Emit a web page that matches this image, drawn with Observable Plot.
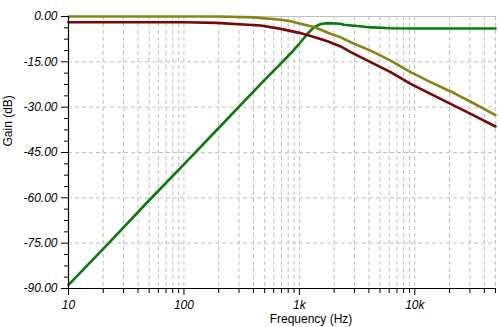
<!DOCTYPE html>
<html>
<head>
<meta charset="utf-8">
<script src="https://cdn.jsdelivr.net/npm/d3@7"></script>
<script src="https://cdn.jsdelivr.net/npm/@observablehq/plot@0.6"></script>
<style>
  html, body { margin: 0; padding: 0; background: #fff; }
  svg { display: block; }
</style>
</head>
<body>
<div id="chart"></div>
<script>
// Frequency axis ticks (Hz)
const majorFreqs = [10, 100, 1000, 10000];
const majorLabels = ["10", "100", "1k", "10k"];
const minorFreqs = [20,30,40,50,60,70,80,90,200,300,400,500,600,700,800,900,2000,3000,4000,5000,6000,7000,8000,9000,20000,30000,40000,50000];
// Gain axis ticks (dB)
const majorGains = [0, -15, -30, -45, -60, -75, -90];
const minorGains = [-3.75,-7.5,-11.25,-18.75,-22.5,-26.25,-33.75,-37.5,-41.25,-48.75,-52.5,-56.25,-63.75,-67.5,-71.25,-78.75,-82.5,-86.25];

// Series: olive (low-pass)
const oliveFreq = [10, 100, 200, 400, 690, 840, 1020, 1340, 1860, 2280, 2780, 4140, 6170, 9200, 13700, 20400, 30500, 50000];
const oliveGain = [0, 0, 0, -0.3, -1.1, -1.6, -2.4, -3.5, -5.7, -6.9, -8.5, -11.3, -14.6, -18.4, -21.7, -24.8, -28.2, -32.6];
// Series: dark red
const redFreq = [10, 100, 190, 460, 690, 1020, 1340, 1750, 2280, 2780, 4140, 6170, 9200, 13700, 20400, 30500, 50000];
const redGain = [-1.9, -1.9, -2.1, -3.0, -4.1, -5.5, -6.8, -8.2, -9.9, -11.8, -15.1, -18.4, -22.3, -25.6, -28.9, -32.2, -36.4];
// Series: green (high-pass)
const greenFreq = [10, 20, 50, 100, 200, 500, 690, 850, 1020, 1170, 1340, 1530, 1770, 2280, 2430, 3870, 6170, 10000, 50000];
const greenGain = [-88.8, -76.9, -60.8, -48.9, -36.9, -21.0, -15.6, -12.0, -8.6, -5.8, -3.5, -2.5, -2.2, -2.4, -2.75, -3.5, -3.9, -3.95, -3.95];

const toRows = (fs, gs) => fs.map((f, i) => ({f, g: gs[i]}));
const olive = toRows(oliveFreq, oliveGain);
const red = toRows(redFreq, redGain);
const green = toRows(greenFreq, greenGain);

const gridGray = "#c0c0c0";
const tickFont = {fontStyle: "italic", fontSize: 12, fontFamily: "Liberation Sans, Arial, sans-serif"};

const chart = Plot.plot({
  width: 498,
  height: 327,
  marginLeft: 68,
  marginRight: 3,
  marginTop: 16,
  marginBottom: 39,
  style: {fontFamily: "Liberation Sans, Arial, sans-serif", fontSize: "12px", background: "#fff", color: "#000"},
  x: {type: "log", domain: [10, 50000], axis: null},
  y: {domain: [-90, 0], axis: null},
  marks: [
    Plot.ruleX(minorFreqs.concat(majorFreqs.slice(1)), {stroke: gridGray, strokeDasharray: "4,3", strokeWidth: 1}),
    Plot.ruleY(majorGains.filter(g => g !== 0 && g !== -90), {stroke: gridGray, strokeDasharray: "4,3", strokeWidth: 1}),
    Plot.ruleY([0], {stroke: gridGray, strokeWidth: 1}),
    Plot.line(green, {x: "f", y: "g", stroke: "#0a7a0a", strokeWidth: 2.6}),
    Plot.line(red, {x: "f", y: "g", stroke: "#780808", strokeWidth: 2.6}),
    Plot.line(olive, {x: "f", y: "g", stroke: "#858515", strokeWidth: 2.6}),
    Plot.ruleX([10], {stroke: "#000", strokeWidth: 1.2}),
    Plot.ruleY([-90], {stroke: "#000", strokeWidth: 1.2}),
    Plot.axisX(minorFreqs, {tickSize: 5, tickFormat: () => "", stroke: "#000", label: null}),
    Plot.axisX(majorFreqs, {tickSize: 7, tickPadding: 5, tickFormat: d => majorLabels[majorFreqs.indexOf(d)], ...tickFont, fill: "#000", stroke: "#000", label: null}),
    Plot.axisY(minorGains, {tickSize: 4, tickFormat: () => "", stroke: "#000", label: null}),
    Plot.axisY(majorGains, {tickSize: 7, tickPadding: 4, tickFormat: d => d.toFixed(2), ...tickFont, fill: "#000", stroke: "#000", label: null}),
    Plot.text(["Frequency (Hz)"], {text: d => d, frameAnchor: "bottom", lineAnchor: "top", dx: 29, dy: 26, fontSize: 12, fill: "#000"}),
    Plot.text(["Gain (dB)"], {text: d => d, frameAnchor: "left", rotate: -90, dx: -60, dy: -6, fontSize: 12, fill: "#000"})
  ]
});
document.getElementById("chart").appendChild(chart);
</script>
</body>
</html>
